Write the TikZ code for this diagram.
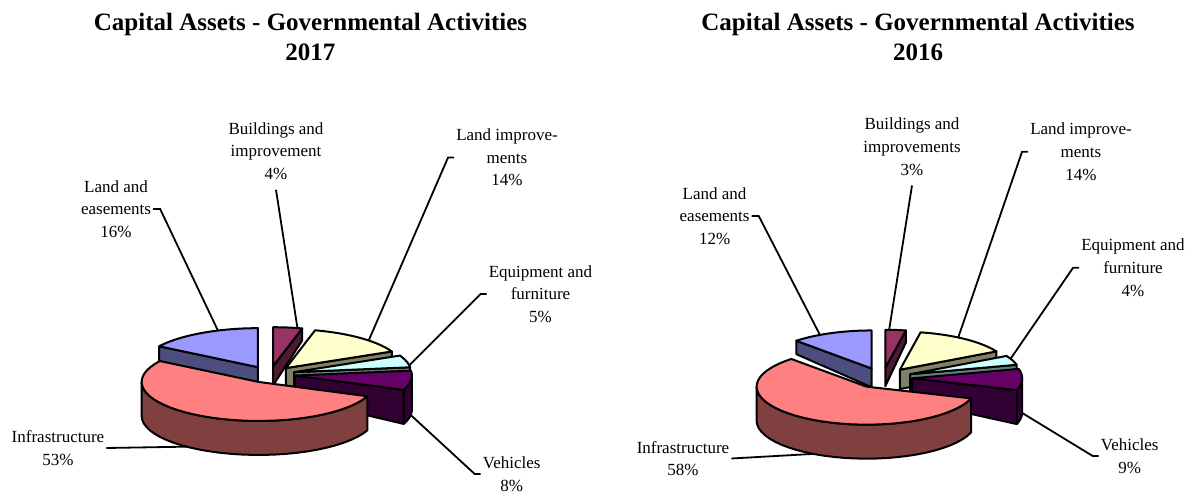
\documentclass[tikz,border=0pt]{standalone}
\usepackage{fontspec}
\setmainfont{Liberation Serif}

\definecolor{landtop}{HTML}{9999FF}\definecolor{landside}{HTML}{4D4D80}
\definecolor{bldtop}{HTML}{993366}\definecolor{bldside}{HTML}{4D1A33}
\definecolor{imptop}{HTML}{FFFFCC}\definecolor{impside}{HTML}{808066}
\definecolor{eqtop}{HTML}{CCFFFF}\definecolor{eqside}{HTML}{668080}
\definecolor{vehtop}{HTML}{660066}\definecolor{vehside}{HTML}{330033}
\definecolor{inftop}{HTML}{FF8080}\definecolor{infside}{HTML}{804040}

\tikzset{
  face/.style={draw=black, line width=2pt, line join=round},
  leader/.style={draw=black, line width=1.8pt},
  lbl/.style={align=center, inner sep=2pt, font=\fontsize{17}{22.6}\selectfont},
  ttl/.style={align=center, inner sep=0pt, font=\fontsize{25}{30}\selectfont\bfseries},
  declare function={
    hh(\X,\Y)=min(34,max(12,22+0.35*(\Y-\pieY)+0.0006*(\X-\pieX)*(\X-\pieX)));
    px(\ang)=\sx+\pieA*cos(\ang);
    py(\ang)=\sy-\pieB*sin(\ang);
    pz(\ang)=py(\ang)+hh(px(\ang),py(\ang));
  }
}

% centre x, centre y, radius x, radius y, explode
\newcommand\setpie[5]{\def\pieX{#1}\def\pieY{#2}\def\pieA{#3}\def\pieB{#4}\def\pieD{#5}}

\newcommand\cutface[2]{%
  \path[face,fill=#2] (\sx,\sy) -- ({px(#1)},{py(#1)}) -- ({px(#1)},{pz(#1)})
    -- (\sx,{\sy+hh(\sx,\sy)}) -- cycle;}

\newcommand\rimface[3]{%
  \path[face,fill=#3] plot[domain=#1:#2,samples=30,variable=\q] ({px(\q)},{py(\q)})
    -- plot[domain=#2:#1,samples=30,variable=\q] ({px(\q)},{pz(\q)}) -- cycle;}

% name, from, to, top colour, side colour, leader angle
\newcommand\pieslice[6]{%
  \pgfmathsetmacro\smid{(#2+#3)/2}%
  \pgfmathsetmacro\sx{\pieX+\pieD*\pieA*cos(\smid)}%
  \pgfmathsetmacro\sy{\pieY-\pieD*\pieB*sin(\smid)}%
  % rim, front part only
  \pgfmathsetmacro\fa{max(#2,180)}\pgfmathsetmacro\fb{min(#3,360)}%
  \ifdim\fa pt<\fb pt \rimface{\fa}{\fb}{#5}\fi
  \pgfmathsetmacro\fa{max(#2,-180)}\pgfmathsetmacro\fb{min(#3,0)}%
  \ifdim\fa pt<\fb pt \rimface{\fa}{\fb}{#5}\fi
  % cut faces
  \pgfmathtruncatemacro\vis{cos(#2)>0.02}%
  \ifnum\vis=1 \cutface{#2}{#5}\fi
  \pgfmathtruncatemacro\vis{cos(#3)<-0.02}%
  \ifnum\vis=1 \cutface{#3}{#5}\fi
  % top
  \path[face,fill=#4] (\sx,\sy) -- plot[domain=#2:#3,samples=40,variable=\q] ({px(\q)},{py(\q)}) -- cycle;
  \coordinate (#1-t) at ({px(#6)},{py(#6)});
  \coordinate (#1-b) at ({px(#6)},{pz(#6)});
}

\begin{document}
\begin{tikzpicture}[x=1pt,y=-1pt]
  \useasboundingbox (0,0) rectangle (1187,495);

  % 2017
  \node[ttl] (ttl17) at (310.5,36.7) {Capital Assets - Governmental Activities\\2017};
  \setpie{270}{374.5}{117}{39}{0.214}
  \pieslice{bld17}{75.6}{90}{bldtop}{bldside}{78}
  \pieslice{land17}{90}{147.6}{landtop}{landside}{110}
  \pieslice{imp17}{25.2}{75.6}{imptop}{impside}{45}
  \pieslice{eq17}{7.2}{25.2}{eqtop}{eqside}{10}
  \pieslice{veh17}{-21.6}{7.2}{vehtop}{vehside}{-8}
  \pieslice{inf17}{147.6}{338.4}{inftop}{infside}{232}

  \node[lbl] (txt-land17) at (116,209) {Land and\\easements\\16\%};
  \node[lbl] (txt-bld17) at (276,151) {Buildings and\\improvement\\4\%};
  \node[lbl] (txt-imp17) at (507,157.5) {Land improve-\\ments\\14\%};
  \node[lbl] (txt-eq17) at (540.5,294) {Equipment and\\furniture\\5\%};
  \node[lbl] (txt-veh17) at (511.7,474) {Vehicles\\8\%};
  \node[lbl] (txt-inf17) at (58,448) {Infrastructure\\53\%};

  \draw[leader] (txt-land17.east) -- ++(7,0) -- (land17-t);
  \draw[leader] (txt-bld17.south) ++(0,8) -- (bld17-t);
  \draw[leader] (txt-imp17.west) -- ++(-6,0) -- (imp17-t);
  \draw[leader] (txt-eq17.west) -- ++(-6,0) -- (eq17-t);
  \draw[leader] (txt-veh17.west) -- ++(-6,0) -- (veh17-b);
  \draw[leader] (txt-inf17.east) -- (inf17-b);

  % 2016
  \node[ttl] (ttl16) at (918,36.7) {Capital Assets - Governmental Activities\\2016};
  \setpie{882.5}{378}{110}{38}{0.27}
  \pieslice{bld16}{79.2}{90}{bldtop}{bldside}{88}
  \pieslice{land16}{90}{133.2}{landtop}{landside}{118}
  \pieslice{imp16}{28.8}{79.2}{imptop}{impside}{58}
  \pieslice{eq16}{14.4}{28.8}{eqtop}{eqside}{24}
  \pieslice{veh16}{-18}{14.4}{vehtop}{vehside}{-1}
  \pieslice{inf16}{133.2}{342}{inftop}{infside}{241}

  \node[lbl] (txt-land16) at (714.6,216) {Land and\\easements\\12\%};
  \node[lbl] (txt-bld16) at (912,146.7) {Buildings and\\improvements\\3\%};
  \node[lbl] (txt-imp16) at (1081,151.7) {Land improve-\\ments\\14\%};
  \node[lbl] (txt-eq16) at (1133,267.7) {Equipment and\\furniture\\4\%};
  \node[lbl] (txt-veh16) at (1129.7,456) {Vehicles\\9\%};
  \node[lbl] (txt-inf16) at (683,458.5) {Infrastructure\\58\%};

  \draw[leader] (txt-land16.east) -- ++(7,0) -- (land16-t);
  \draw[leader] (txt-bld16.south) ++(0,8) -- (bld16-t);
  \draw[leader] (txt-imp16.west) -- ++(-6,0) -- (imp16-t);
  \draw[leader] (txt-eq16.west) -- ++(-6,0) -- (eq16-t);
  \draw[leader] (txt-veh16.west) -- ++(-6,0) -- (veh16-b);
  \draw[leader] (txt-inf16.east) -- (inf16-b);
\end{tikzpicture}
\end{document}
